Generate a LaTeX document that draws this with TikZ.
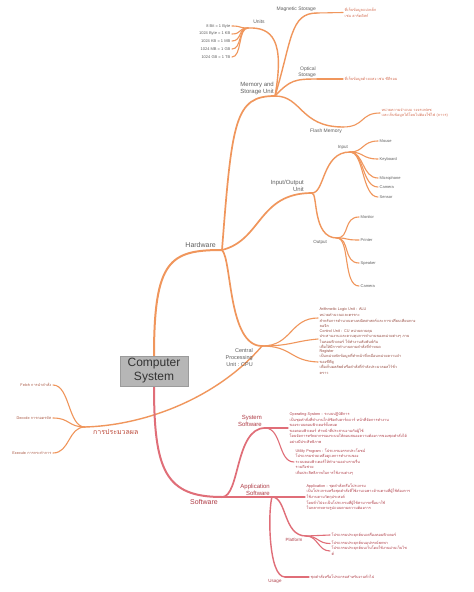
\documentclass[tikz,border=0pt]{standalone}
\usepackage{fontspec}
\setmainfont{Liberation Sans}
\newfontfamily\thaifont[Script=Thai]{Loma}
\usetikzlibrary{positioning}
\definecolor{hworange}{RGB}{240,150,92}
\definecolor{swred}{RGB}{224,110,120}
\definecolor{boxgray}{RGB}{182,182,182}
\definecolor{lblgray}{RGB}{95,95,95}
\definecolor{hwtext}{RGB}{212,108,80}
\definecolor{cputext}{RGB}{150,75,65}
\definecolor{proctext}{RGB}{170,90,70}
\definecolor{swtext}{RGB}{175,60,70}
\tikzset{
    rootbox/.style={rectangle, fill=boxgray, draw=boxgray!85!black, line width=0.3pt, minimum width=68, minimum height=30, align=center, font=\fontsize{12}{14}\selectfont, text=black!80, inner sep=1pt},
    lbl_main/.style={font=\fontsize{7}{8}\selectfont, text=#1, inner sep=1pt},
    lbl_main/.default=lblgray,
    lbl_sub/.style={font=\fontsize{6}{7.5}\selectfont, text=#1, align=right, inner sep=1pt},
    lbl_sub/.default=lblgray,
    lbl_small/.style={font=\fontsize{5}{6.5}\selectfont, text=#1, align=right, inner sep=1pt},
    lbl_small/.default=lblgray,
    lbl_tiny/.style={font=\fontsize{4.5}{5.5}\selectfont, text=#1, inner sep=1pt},
    lbl_tiny/.default=lblgray,
    leaf/.style={font=\fontsize{4}{5}\selectfont, text=lblgray, inner xsep=1.5pt, inner ysep=1pt},
    thaileaf/.style={font=\thaifont\fontsize{3.8}{5.6}\selectfont, text=#1, align=left, inner xsep=1.5pt, inner ysep=0pt},
    thaileaf/.default=hwtext,
    thailbl/.style={font=\thaifont\fontsize{7}{8}\selectfont, text=#1, inner sep=1pt},
    hwline/.style={draw=hworange, line width=#1, line cap=round},
    hwline/.default=1pt,
    swline/.style={draw=swred, line width=#1, line cap=round},
    swline/.default=1pt
}
\begin{document}
\begin{tikzpicture}[x=1pt, y=-1pt]
    \useasboundingbox (0,0) rectangle (474,592);
    \fill[white] (0,0) rectangle (474,592);
    % hubs
    \coordinate (hw) at (222,250);
    \coordinate (mem) at (275,96);
    \coordinate (units) at (248,28);
    \coordinate (mag) at (317,13);
    \coordinate (opt) at (317,79);
    \coordinate (fla) at (343,127);
    \coordinate (io) at (312,193);
    \coordinate (inp) at (350,152);
    \coordinate (outp) at (337,238);
    \coordinate (cpu) at (262,346);
    \coordinate (proc) at (85,427);
    \coordinate (sw) at (222,497);
    \coordinate (sys) at (265,428);
    \coordinate (app) at (272,497);
    \coordinate (plat) at (306,536);
    \coordinate (usage) at (285,577);

    % hardware side
    \draw[hwline=2pt] (154,356) .. controls (154,260) and (170,250) .. (hw);
    \draw[hwline=1.7pt] (hw) .. controls (232,120) and (235,96) .. (mem);
    \draw[hwline=1.7pt] (hw) .. controls (262,240) and (258,193) .. (io);
    \draw[hwline=1.7pt] (hw) .. controls (232,260) and (228,346) .. (cpu);
    \draw[hwline=1.4pt] (mem) .. controls (285,40) and (272,27) .. (units);
    \draw[hwline=1.4pt] (mem) .. controls (292,40) and (290,13) .. (mag);
    \draw[hwline=1.4pt] (mem) .. controls (290,80) and (295,79) .. (opt);
    \draw[hwline=1.4pt] (mem) .. controls (302,96) and (300,127) .. (fla);
    \draw[hwline=1.4pt] (io) .. controls (325,193) and (322,152) .. (inp);
    \draw[hwline=1.4pt] (io) .. controls (318,193) and (312,238) .. (outp);
    \draw[hwline=1.4pt] (cpu) .. controls (220,395) and (150,425) .. (proc);

    \node[lbl_main, anchor=south east] (hwl) at (217,249) {Hardware};
    \node[lbl_sub, anchor=south east] (meml) at (mem) {Memory and\\Storage Unit};
    \node[lbl_small, anchor=south] (unitsl) at (259,25) {Units};
    \node[lbl_small, anchor=south east] (magl) at (mag) {Magnetic Storage};
    \node[lbl_small, anchor=south east] (optl) at (opt) {Optical\\Storage};
    \node[lbl_small, anchor=north east] (flal) at (343,128) {Flash Memory};
    \node[lbl_sub, anchor=south east] (iol) at (305,193) {Input/Output\\Unit};
    \node[lbl_tiny, anchor=south east] (inpl) at (349,151) {Input};
    \node[lbl_tiny, anchor=north east] (outpl) at (328,239) {Output};
    \node[lbl_sub, anchor=north east, font=\fontsize{5.5}{7}\selectfont] (cpul) at (254,347) {Central\\Processing\\Unit : CPU};
    \node[thailbl=proctext!80!red, anchor=north west] (procl) at (92,428) {การประมวลผล};

    \foreach \y/\txt [count=\i] in {26/8 Bit = 1 Byte, 34/1024 Byte = 1 KB, 41/1024 KB = 1 MB, 49/1024 MB = 1 GB, 57/1024 GB = 1 TB} {
        \node[leaf, anchor=east] (u\i) at (232,\y) {\txt};
        \draw[hwline=1.1pt] (units) .. controls (238,28) and (242,\y) .. (u\i.east);
    }
    \node[thaileaf, anchor=west] (magtxt) at (343,12.5) {ที่เก็บข้อมูลแม่เหล็ก\\เช่น ฮาร์ดดิสก์};
    \node[thaileaf, anchor=west] (opttxt) at (343,79) {ที่เก็บข้อมูลด้วยแสง เช่น ซีดีรอม};
    \node[thaileaf, anchor=west] (flatxt) at (380,113) {หน่วยความจำแบบ วงจรแฟลช\\และเก็บข้อมูลได้โดยไม่ต้องใช้ไฟ (ถาวร)};
    \draw[hwline=1.1pt] (mag) -- (magtxt.west);
    \draw[hwline=1.1pt] (opt) -- (opttxt.west);
    \draw[hwline=1.1pt] (fla) .. controls (365,127) and (360,113) .. (flatxt.west);

    \foreach \y/\txt [count=\i] in {141/Mouse, 159/Keyboard, 178/Microphone, 187/Camera, 197/Sensor} {
        \node[leaf, anchor=west] (in\i) at (378,\y) {\txt};
        \draw[hwline=1.1pt] (inp) .. controls (364,152) and (362,\y) .. (in\i.west);
    }
    \foreach \y/\txt [count=\i] in {217/Monitor, 240/Printer, 263/Speaker, 286/Camera} {
        \node[leaf, anchor=west] (o\i) at (359,\y) {\txt};
        \draw[hwline=1.1pt] (outp) .. controls (350,238) and (343,\y) .. (o\i.west);
    }

    \node[thaileaf=cputext, anchor=west] (alu) at (318,318) {Arithmetic Logic Unit : ALU\\หน่วยคำนวณและตรรกะ\\สำหรับการคำนวณทางคณิตศาสตร์และการเปรียบเทียบทาง\\ลอจิก};
    \node[thaileaf=cputext, anchor=west] (cu) at (318,339) {Control Unit : CU หน่วยควบคุม\\ประสานงานและควบคุมการทำงานของหน่วยต่างๆ ภาย\\ในคอมพิวเตอร์ ให้ทำงานสัมพันธ์กัน\\เพื่อให้มีการทำงานตามคำสั่งที่กำหนด};
    \node[thaileaf=cputext, anchor=west] (reg) at (318,362) {Register\\เป็นหน่วยพักข้อมูลที่ทำหน้าที่เหมือนหน่วยความจำ\\ของซีพียู\\เพื่อเก็บผลลัพธ์หรือคำสั่งที่กำลังประมวลผลไว้ชั่ว\\คราว};
    \draw[hwline=1.1pt] (cpu) .. controls (292,346) and (290,318) .. (alu.west);
    \draw[hwline=1.1pt] (cpu) .. controls (290,346) and (295,341) .. (cu.west);
    \draw[hwline=1.1pt] (cpu) .. controls (292,346) and (290,361) .. (reg.west);

    \foreach \y/\txt [count=\i] in {385/Fetch การนำคำสั่ง, 418/Decode การถอดรหัส, 453/Execute การกระทำการ} {
        \node[thaileaf=proctext, anchor=east] (p\i) at (53,\y) {\txt};
        \draw[hwline=1.1pt] (proc) .. controls (68,427) and (70,\y) .. (p\i.east);
    }

    % software side
    \draw[swline=2pt] (154,386) .. controls (154,470) and (165,497) .. (sw);
    \draw[swline=1.7pt] (sw) .. controls (240,497) and (235,428) .. (sys);
    \draw[swline=1.7pt] (sw) -- (app);
    \draw[swline=1.4pt] (app) .. controls (287,497) and (283,536) .. (plat);
    \draw[swline=1.4pt] (app) .. controls (268,510) and (268,577) .. (usage);

    \node[lbl_main=swtext, anchor=north] (swl) at (204,498.5) {Software};
    \node[lbl_sub=swtext, anchor=south east] (sysl) at (263,428) {System\\Software};
    \node[lbl_sub=swtext, anchor=south east] (appl) at (271,497) {Application\\Software};
    \node[lbl_tiny=swtext, anchor=north] (platl) at (294,537) {Platform};
    \node[lbl_tiny=swtext, anchor=north] (usagel) at (275,578) {Usage};

    \node[thaileaf=swtext, anchor=west] (os) at (288,428) {Operating System : ระบบปฏิบัติการ\\เป็นชุดคำสั่งที่ทำงานใกล้ชิดกับฮาร์ดแวร์ หน้าที่จัดการทำงาน\\ของระบบคอมพิวเตอร์ทั้งหมด\\ของคอมพิวเตอร์ ทำหน้าที่ประสานงานกับผู้ใช้\\โดยจัดการทรัพยากรของระบบให้ตอบสนองความต้องการของชุดคำสั่งได้\\อย่างมีประสิทธิภาพ};
    \node[thaileaf=swtext, anchor=west] (util) at (294,462) {Utility Program : โปรแกรมอรรถประโยชน์\\โปรแกรมช่วยเหลือดูแลการทำงานของ\\ระบบคอมพิวเตอร์ให้ทำงานอย่างราบรื่น\\รวมถึงช่วย\\เพิ่มประสิทธิภาพในการใช้งานต่างๆ};
    \node[thaileaf=swtext, anchor=west] (apptxt) at (305,497) {Application : ชุดคำสั่งหรือโปรแกรม\\เป็นโปรแกรมหรือชุดคำสั่งที่ใช้งานเฉพาะด้านตามที่ผู้ใช้ต้องการ\\ใช้งานตามวัตถุประสงค์\\โดยทั่วไปจะเป็นโปรแกรมที่ผู้ใช้สามารถซื้อมาใช้\\ในหลากหลายรูปแบบตามความต้องการ};
    \draw[swline=1.1pt] (sys) -- (os.west);
    \draw[swline=1.1pt] (sys) .. controls (282,428) and (278,462) .. (util.west);
    \draw[swline=1.1pt] (app) -- (apptxt.west);

    \foreach \y/\txt [count=\i] in {535/โปรแกรมประยุกต์บนเครื่องคอมพิวเตอร์, 543.5/โปรแกรมประยุกต์บนอุปกรณ์พกพา, 551/{โปรแกรมประยุกต์บนเว็บโดยใช้งานผ่านเว็บไซ\\ต์}} {
        \node[thaileaf=swtext, anchor=west] (pl\i) at (330,\y) {\txt};
        \draw[swline=1.1pt] (plat) .. controls (318,536) and (318,\y) .. (pl\i.west);
    }
    \node[thaileaf=swtext, anchor=west] (usetxt) at (309,577) {ชุดคำสั่งหรือโปรแกรมสำหรับงานทั่วไป};
    \draw[swline=1.1pt] (usage) -- (usetxt.west);

    % root
    \node[rootbox] (cs) at (154,371) {Computer\\System};
\end{tikzpicture}
\end{document}
